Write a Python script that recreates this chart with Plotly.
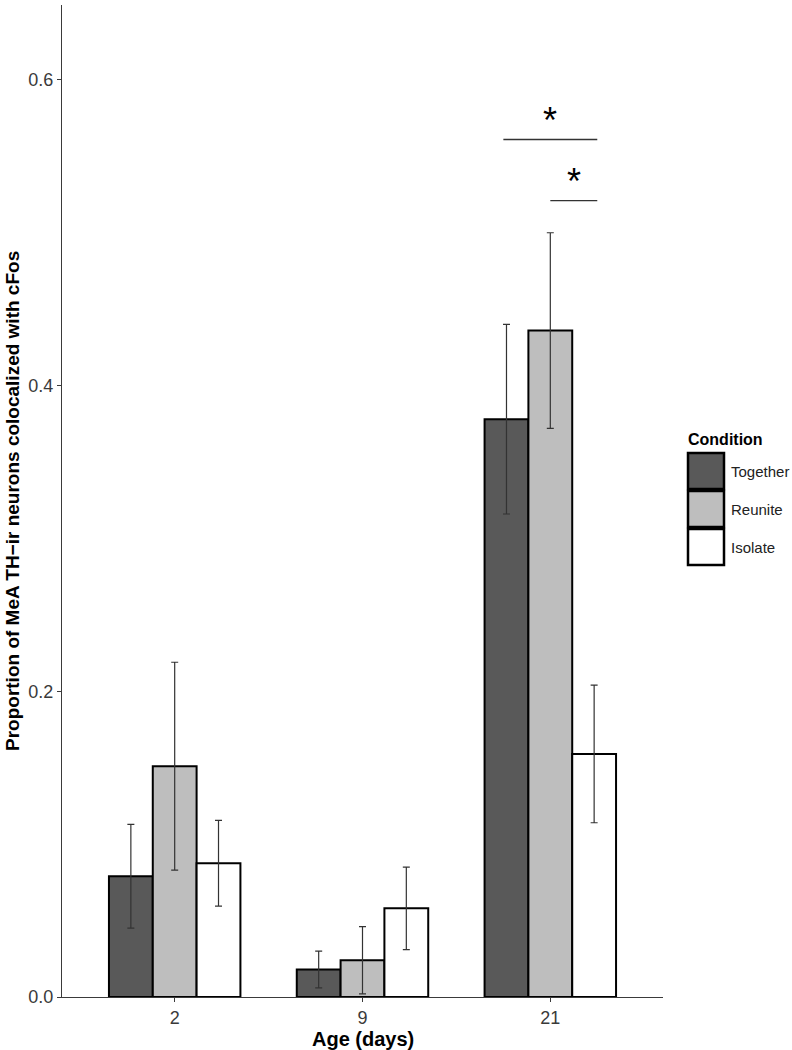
import plotly.graph_objects as go

# ---- data ----
ages = ["2", "9", "21"]
conditions = ["Together", "Reunite", "Isolate"]
together = [0.079, 0.018, 0.378]
together_se = [0.034, 0.012, 0.062]
reunite = [0.151, 0.024, 0.436]
reunite_se = [0.068, 0.022, 0.064]
isolate = [0.0875, 0.058, 0.159]
isolate_se = [0.028, 0.027, 0.045]
colors = ["#595959", "#bebebe", "#ffffff"]

sig_x0 = [1.75, 2.0]
sig_x1 = [2.25, 2.25]
sig_y = [0.561, 0.521]
sig_label = ["*", "*"]

y_ticks = [0.0, 0.2, 0.4, 0.6]
y_tick_text = ["0.0", "0.2", "0.4", "0.6"]

FONT = "Liberation Sans, Arial, Helvetica, sans-serif"
AX = "#3a3a3a"

W, H = 792, 1050
ML, MR, MT, MB = 62, 129, 5, 53
PW = W - ML - MR
PH = H - MT - MB


def px(x):
    return (x - ML) / PW


def py(y):
    return (H - MB - y) / PH


fig = go.Figure()
for name, vals, se, col in zip(conditions, [together, reunite, isolate],
                               [together_se, reunite_se, isolate_se], colors):
    fig.add_trace(go.Bar(
        x=ages, y=vals, name=name,
        marker=dict(color=col, line=dict(color="black", width=2)),
        error_y=dict(type="data", array=se, visible=True, color="#333333",
                     thickness=1.2, width=3.5),
        showlegend=False,
    ))

shapes = []
annotations = []
for x0, x1, y, lab in zip(sig_x0, sig_x1, sig_y, sig_label):
    shapes.append(dict(type="line", xref="x", yref="y", x0=x0, x1=x1, y0=y, y1=y,
                       line=dict(color="#333333", width=1.4)))
    annotations.append(dict(xref="x", yref="y", x=(x0 + x1) / 2, y=y, text=lab,
                            showarrow=False, yanchor="middle", yshift=19,
                            font=dict(family=FONT, size=36, color="black")))

# axis titles
annotations.append(dict(xref="paper", yref="paper", x=0.5, y=py(1039),
                        text="<b>Age (days)</b>", showarrow=False,
                        xanchor="center", yanchor="middle",
                        font=dict(family=FONT, size=20, color="black")))
annotations.append(dict(xref="paper", yref="paper", x=px(12), y=0.5,
                        text="<b>Proportion of MeA TH\u2212ir neurons colocalized with cFos</b>",
                        showarrow=False, textangle=-90,
                        xanchor="center", yanchor="middle",
                        font=dict(family=FONT, size=19, color="black")))

# custom legend
annotations.append(dict(xref="paper", yref="paper", x=px(686), y=py(439), text="<b>Condition</b>",
                        showarrow=False, xanchor="left", yanchor="middle",
                        font=dict(family=FONT, size=16, color="black")))
key_top = 452
key_h = 38
for i, (name, col) in enumerate(zip(conditions, colors)):
    t = key_top + i * key_h
    shapes.append(dict(type="rect", xref="paper", yref="paper",
                       x0=px(688), x1=px(724), y0=py(t + key_h - 1), y1=py(t + 1),
                       fillcolor=col, line=dict(color="black", width=2.5)))
    annotations.append(dict(xref="paper", yref="paper", x=px(729), y=py(t + key_h / 2),
                            text=name, showarrow=False, xanchor="left", yanchor="middle",
                            font=dict(family=FONT, size=15, color="#222222")))

fig.update_layout(
    width=W, height=H,
    margin=dict(l=ML, r=MR, t=MT, b=MB, pad=0, autoexpand=False),
    paper_bgcolor="white", plot_bgcolor="white",
    barmode="group", bargap=0.3, bargroupgap=0,
    font=dict(family=FONT, color="black"),
    shapes=shapes, annotations=annotations,
    xaxis=dict(
        type="category", range=[-0.6, 2.6], automargin=False,
        showline=True, linecolor=AX, linewidth=1, mirror=False,
        ticks="outside", ticklen=4, tickcolor=AX, tickwidth=1,
        showgrid=False, zeroline=False,
        tickfont=dict(family=FONT, size=18, color=AX),
    ),
    yaxis=dict(
        range=[0, 0.649], automargin=False,
        tickvals=y_ticks, ticktext=y_tick_text,
        showline=True, linecolor=AX, linewidth=1,
        ticks="outside", ticklen=4, tickcolor=AX, tickwidth=1,
        showgrid=False, zeroline=False,
        tickfont=dict(family=FONT, size=18, color=AX),
    ),
)

fig.write_html("out.html",
               config={"displayModeBar": False},
               post_script="document.body.style.margin='0';document.body.style.overflow='hidden';")
